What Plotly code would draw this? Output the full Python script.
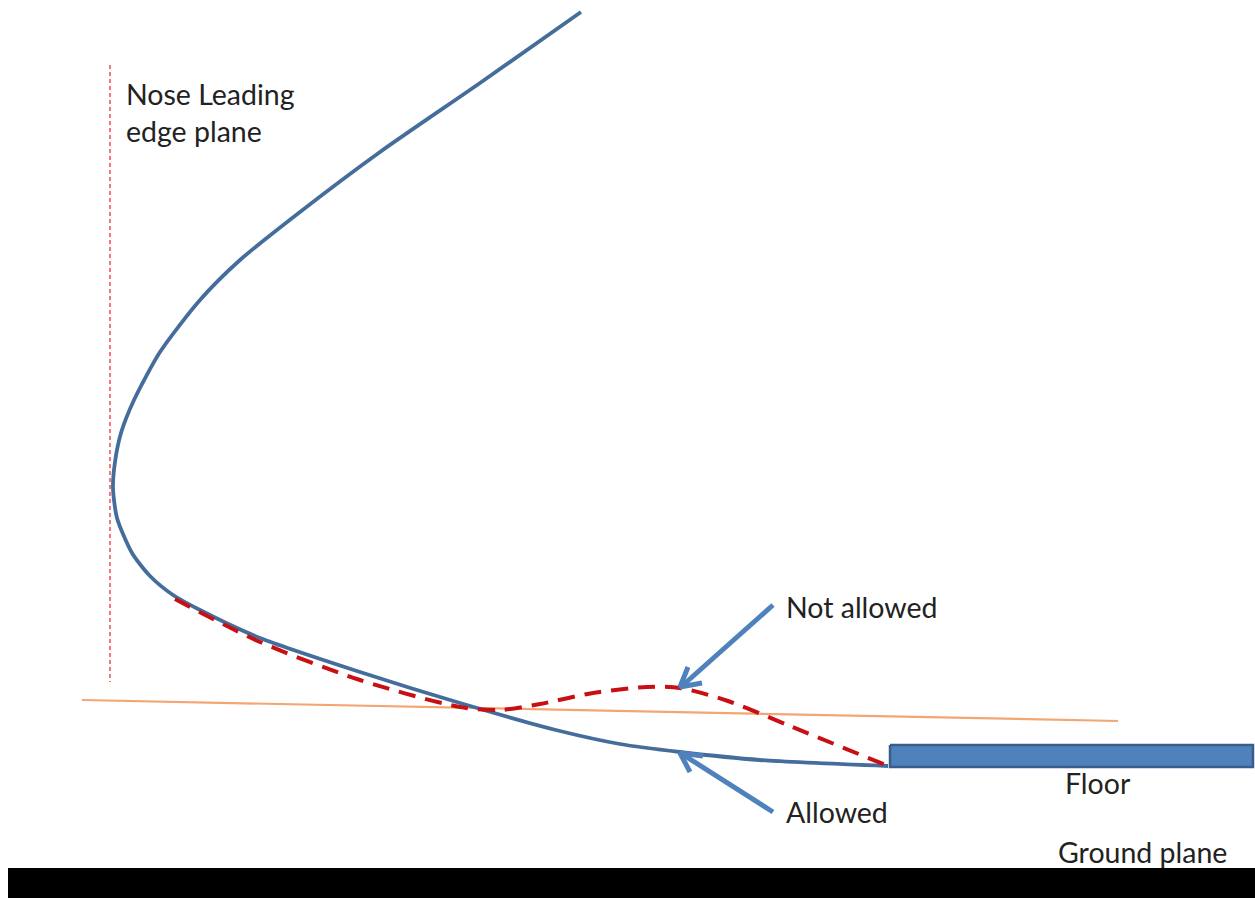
import plotly.graph_objects as go

# Geometry (horizontal position, vertical position from top)
profile_x = [581, 480, 380, 300, 240, 200, 160, 134, 121, 115, 113, 117, 132, 150, 173, 200, 260, 360, 460, 560, 620, 680, 760, 888]
profile_y = [12, 83, 152, 212, 260, 300, 352, 400, 433, 462, 488, 518, 553, 576, 595, 610, 638, 672, 703, 731, 744, 752, 760, 766]
not_allowed_x = [175, 260, 360, 460, 500, 540, 593, 647, 680, 728, 790, 888]
not_allowed_y = [599, 642, 680, 707, 710, 704, 693, 687, 688, 701, 726, 766]
limit_x = [82, 1118]
limit_y = [700, 721]
nose_x = [110, 110]
nose_y = [65, 682]
floor_x = [890, 1253, 1253, 890, 890]
floor_y = [745, 745, 767, 767, 745]
ground_x = [8, 1255, 1255, 8, 8]
ground_y = [868, 868, 898, 898, 868]
arrow1_x = [773, 682, None, 688, 680, 702]
arrow1_y = [605, 686, None, 667, 687, 683]
arrow2_x = [773, 682, None, 690, 680, 703]
arrow2_y = [812, 754, None, 772, 753, 756]
labels = ["Nose Leading", "edge plane", "Not allowed", "Allowed", "Floor", "Ground plane"]
label_x = [126, 126, 786, 786, 1065, 1058]
label_y = [98, 135, 611, 816, 787, 856]

fig = go.Figure()
fig.add_trace(go.Scatter(x=ground_x, y=ground_y, mode="lines", fill="toself", fillcolor="#000000",
                         line=dict(color="#000000", width=0)))
fig.add_trace(go.Scatter(x=floor_x, y=floor_y, mode="lines", fill="toself", fillcolor="#4f81bd",
                         line=dict(color="#385d8a", width=2.5)))
fig.add_trace(go.Scatter(x=nose_x, y=nose_y, mode="lines", line=dict(color="#f0404a", width=1.4, dash="4px,3px")))
fig.add_trace(go.Scatter(x=limit_x, y=limit_y, mode="lines", line=dict(color="#f2a671", width=2.2)))
fig.add_trace(go.Scatter(x=profile_x, y=profile_y, mode="lines",
                         line=dict(color="#456d9c", width=3.8, shape="spline", smoothing=0.7)))
fig.add_trace(go.Scatter(x=not_allowed_x, y=not_allowed_y, mode="lines",
                         line=dict(color="#c80f14", width=4, shape="spline", smoothing=0.8, dash="17px,10px")))
for ax, ay in ((arrow1_x, arrow1_y), (arrow2_x, arrow2_y)):
    fig.add_trace(go.Scatter(x=ax, y=ay, mode="lines", line=dict(color="#4f81bd", width=5)))
fig.add_trace(go.Scatter(x=label_x, y=label_y, mode="text", text=labels, textposition="middle right",
                         textfont=dict(family="Lato", size=28.5, color="#222222")))

fig.update_layout(
    width=1255, height=898, margin=dict(l=0, r=0, t=0, b=0),
    paper_bgcolor="white", plot_bgcolor="white", showlegend=False,
    xaxis=dict(range=[0, 1255], visible=False),
    yaxis=dict(range=[898, 0], visible=False),
)
fig.write_html("out.html", config=dict(displayModeBar=False),
               post_script="document.body.style.margin='0';")
